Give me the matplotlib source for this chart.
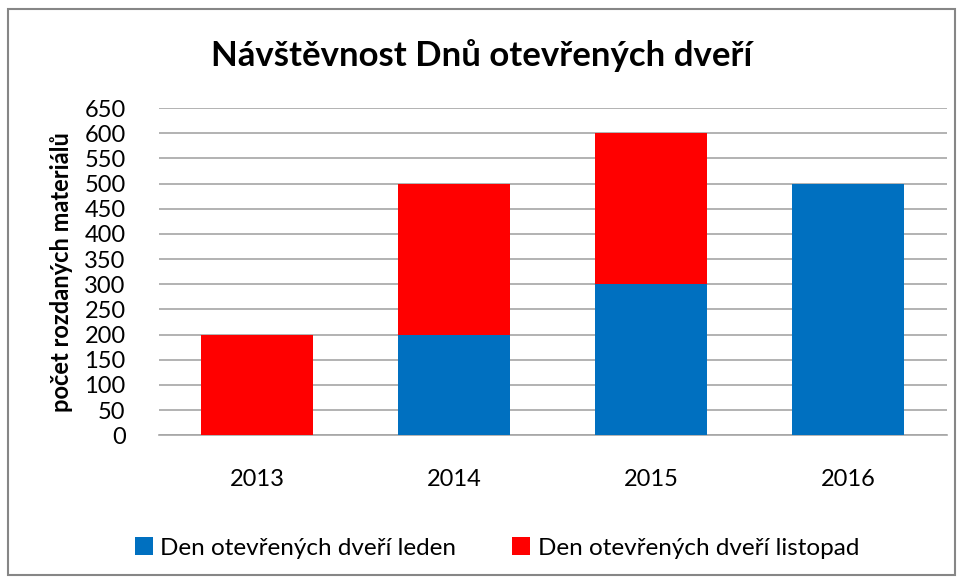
import numpy as np
import matplotlib
matplotlib.use("Agg")
import matplotlib.pyplot as plt
from matplotlib.patches import Rectangle

plt.rcParams["font.family"] = ["Lato", "DejaVu Sans"]

years = ["2013", "2014", "2015", "2016"]
leden = [0, 200, 300, 500]
listopad = [200, 300, 300, 0]
series_names = ["Den otevřených dveří leden", "Den otevřených dveří listopad"]
title = "Návštěvnost Dnů otevřených dveří"
ylabel = "počet rozdaných materiálů"

blue = "#0070C0"
red = "#FF0000"

fig = plt.figure(figsize=(9.63, 5.81), dpi=100)
ax = fig.add_axes([0.165, 0.251, 0.818, 0.563])

x = np.arange(len(years))
ax.bar(x, leden, width=0.57, color=blue, label=series_names[0], zorder=3)
ax.bar(x, listopad, width=0.57, bottom=leden, color=red, label=series_names[1], zorder=3)

ax.set_xlim(-0.5, len(years) - 0.5)
ax.set_ylim(0, 650)
ax.set_yticks(np.arange(0, 651, 50))
ax.set_xticks(x)
ax.set_xticklabels(years)
ax.yaxis.grid(True, color="#A6A6A6", linewidth=1.2, zorder=0)
for s in ["top", "right", "left"]:
    ax.spines[s].set_visible(False)
ax.spines["bottom"].set_color("#A6A6A6")
ax.spines["bottom"].set_linewidth(1.2)
ax.tick_params(axis="both", length=0, labelsize=17)
ax.tick_params(axis="x", pad=24)
ax.tick_params(axis="y", pad=24)

ax.set_ylabel(ylabel, fontsize=17, fontweight="bold", labelpad=8)
fig.text(0.5, 0.905, title, ha="center", va="center", fontsize=25, fontweight="bold")

fig.legend(loc="center", bbox_to_anchor=(0.516, 0.057), ncol=2, frameon=False,
           fontsize=17.5, handlelength=0.75, handleheight=0.75, handletextpad=0.3,
           columnspacing=2.3)

fig.patches.append(Rectangle((0.008, 0.01), 0.984, 0.975, transform=fig.transFigure,
                             fill=False, edgecolor="#868686", linewidth=1.5))

fig.savefig("out.png", dpi=100)
